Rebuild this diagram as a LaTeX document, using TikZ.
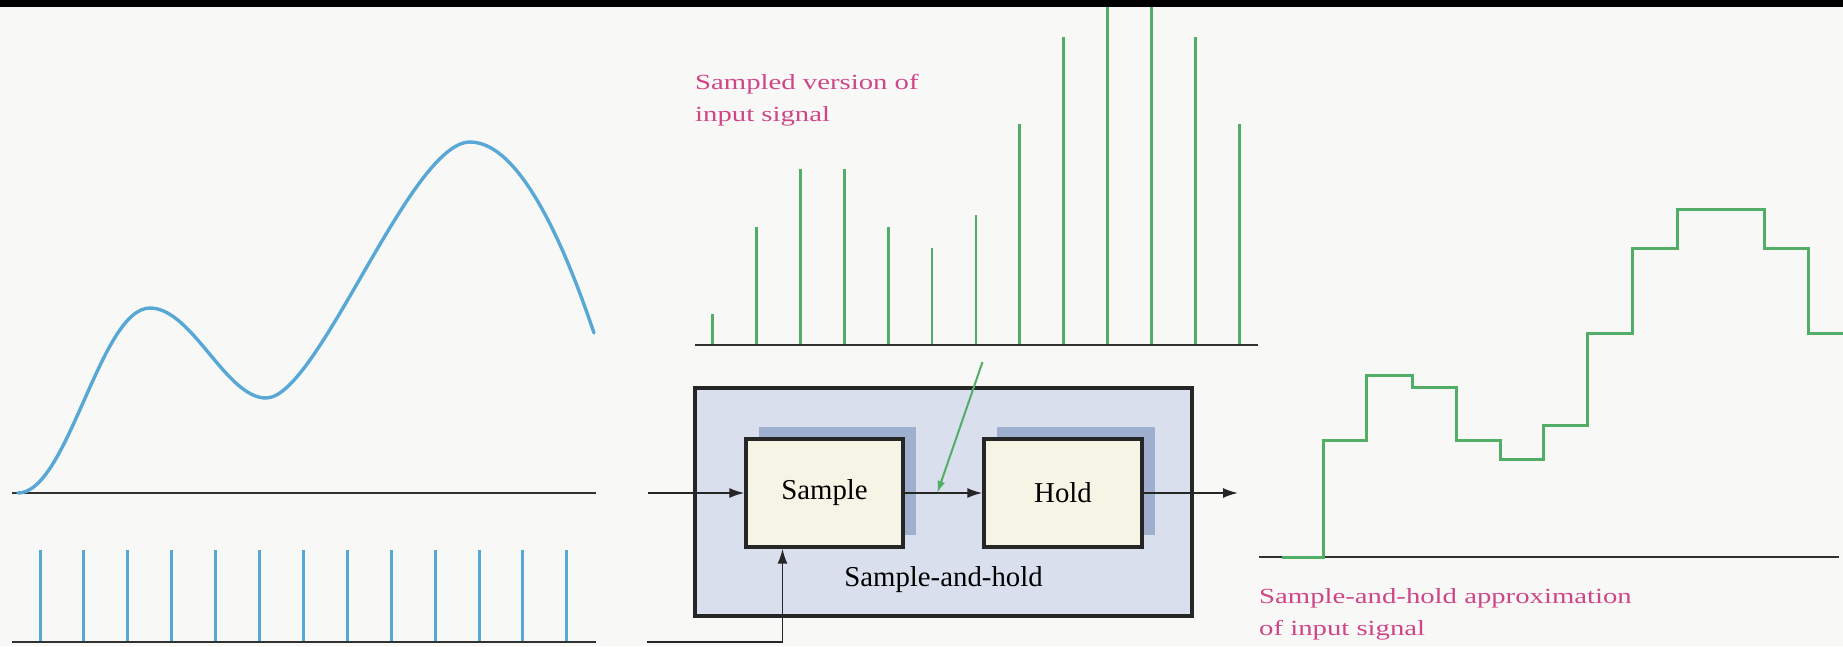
\documentclass[tikz,border=0pt]{standalone}
\usepackage{fontspec}
\setmainfont{Liberation Serif}
\newfontfamily\labelfont[FakeStretch=1.33]{Liberation Serif}
\usetikzlibrary{arrows.meta,shadows,calc}

\definecolor{paper}{RGB}{248,248,247}
\definecolor{sigblue}{RGB}{88,168,214}
\definecolor{siggreen}{RGB}{82,174,102}
\definecolor{axisgray}{RGB}{50,50,50}
\definecolor{panelfill}{RGB}{218,223,238}
\definecolor{shadowblue}{RGB}{158,176,205}
\definecolor{blockfill}{RGB}{246,244,229}
\definecolor{labelpink}{RGB}{206,70,136}

\tikzset{
  axisline/.style={draw=axisgray, line width=2.4pt},
  curve/.style={draw=sigblue, line width=3.4pt, line cap=round, line join=round},
  pulse/.style={draw=sigblue, line width=3pt},
  spike/.style={draw=siggreen, line width=2.8pt},
  stairs/.style={draw=siggreen, line width=3pt, line join=miter},
  panel/.style={draw=black!85, line width=3.3pt, fill=panelfill, inner sep=0pt},
  block/.style={draw=black!85, line width=3.3pt, fill=blockfill, inner sep=0pt,
    minimum height=108pt, font=\fontsize{28.8}{34}\selectfont,
    general shadow={fill=shadowblue, shadow xshift=12.5pt, shadow yshift=12pt}},
  sig/.style={draw=black!85, line width=1.8pt, -{Latex[length=15pt,width=10pt]}},
  pointer/.style={draw=siggreen, line width=2pt, -{Latex[length=12pt,width=8pt]}},
  pinklabel/.style={text=labelpink, align=left, inner sep=0pt, anchor=north west,
    font=\labelfont\fontsize{21.6}{32}\selectfont},
  boxlabel/.style={inner sep=0pt, font=\fontsize{28.8}{34}\selectfont}
}

\begin{document}
\begin{tikzpicture}[x=1pt,y=-1pt]
  \fill[paper] (0,0) rectangle (1843,646);
  \useasboundingbox (0,0) rectangle (1843,646);

  % ---- analog input signal ----
  \draw[axisline] (12,493) -- (596,493);
  \draw[curve] (18,493)
    .. controls (68,493) and (100,308) .. (150,308)
    .. controls (192,308) and (226,398) .. (266,398)
    .. controls (318,398) and (410,142) .. (470,142)
    .. controls (525,142) and (572,268) .. (594,333);

  % ---- sampling pulse train ----
  \draw[axisline] (12,642) -- (596,642);
  \foreach \i in {0,...,12}
    \draw[pulse] ({40+43.9*\i},550) -- ({40+43.9*\i},641);

  % ---- sampled values ----
  \draw[axisline] (695,345) -- (1258,345);
  \foreach \h [count=\i from 0] in {30,117,175,175,117,96,129,220,307,352,352,307,220}
    \draw[spike] ({712.5+43.9*\i},344) -- ++(0,-\h);
  \node[pinklabel] (sampledlbl) at (695,74.5) {Sampled version of\\input signal};

  % ---- sample-and-hold unit ----
  \node[panel, minimum width=497pt, minimum height=228pt] (sh) at (943.5,502) {};
  \node[block, minimum width=157pt] (samp) at (824.5,493) {Sample};
  \node[block, minimum width=158pt] (hold) at (1063,493) {Hold};
  \node[boxlabel, anchor=base] (shlbl) at (943.5,586) {Sample-and-hold};

  \coordinate (in) at (648,493);
  \coordinate (out) at (1238,493);
  \coordinate (clk) at (647,642);
  \coordinate (clkup) at (782.5,642);
  \draw[sig] (in) -- (samp.west);
  \draw[sig] (samp.east) -- (hold.west);
  \draw[sig] (hold.east) -- (out);
  \draw[sig] (clk) -- (clkup) -- (clkup |- samp.south);

  \coordinate (ptr) at (982.5,362);
  \coordinate (tap) at ($(samp.east)!0.42!(hold.west)$);
  \draw[pointer] (ptr) -- (tap);

  % ---- held output ----
  \draw[axisline] (1259,557) -- (1839,557);
  \draw[stairs] (1282,557) -- (1323,557) -- (1323,440) -- (1366,440) -- (1366,375)
    -- (1412,375) -- (1412,387) -- (1456,387) -- (1456,440) -- (1500,440)
    -- (1500,459) -- (1543,459) -- (1543,425) -- (1587,425) -- (1587,333)
    -- (1632,333) -- (1632,248) -- (1677,248) -- (1677,209) -- (1764,209)
    -- (1764,248) -- (1808,248) -- (1808,333) -- (1845,333);
  \node[pinklabel] (heldlbl) at (1259,588.5) {Sample-and-hold approximation\\of input signal};

  % ---- dark strip along the top edge ----
  \fill[black] (0,0) rectangle (1843,7);
\end{tikzpicture}
\end{document}
